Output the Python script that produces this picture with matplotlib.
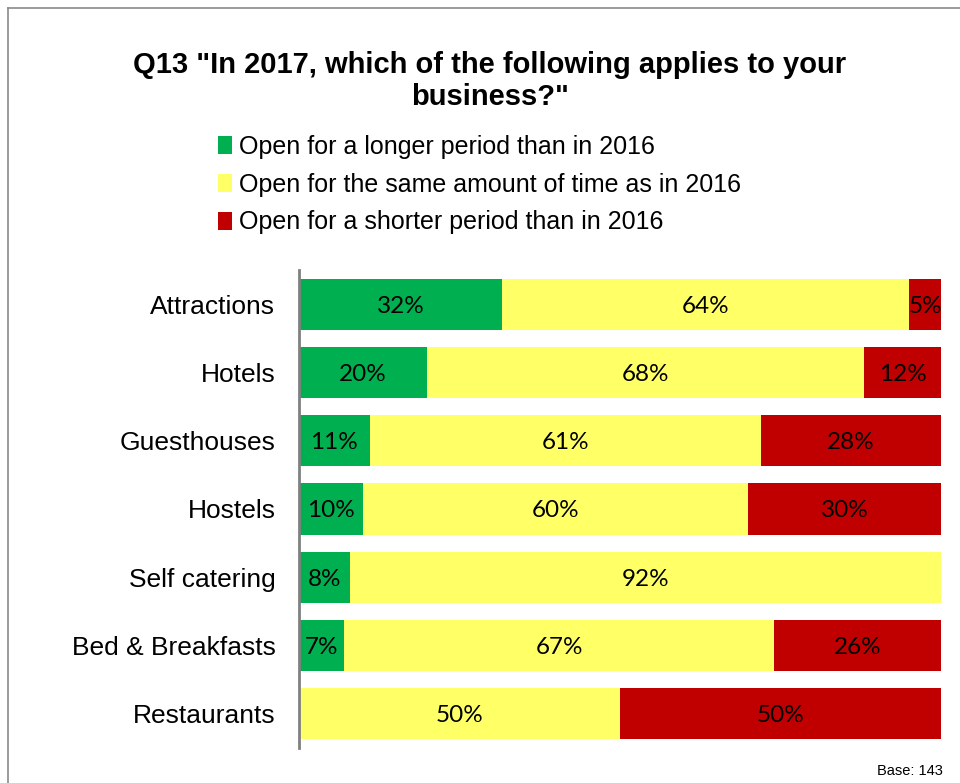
import matplotlib
matplotlib.use("Agg")
import matplotlib.pyplot as plt
import numpy as np
from matplotlib.patches import Patch
from matplotlib.lines import Line2D

plt.rcParams['font.family'] = ['Liberation Sans', 'DejaVu Sans']

categories = ['Attractions', 'Hotels', 'Guesthouses', 'Hostels',
              'Self catering', 'Bed & Breakfasts', 'Restaurants']
longer = [32, 20, 11, 10, 8, 7, 0]
same = [64, 68, 61, 60, 92, 67, 50]
shorter = [5, 12, 28, 30, 0, 26, 50]

series_names = ['Open for a longer period than in 2016',
                'Open for the same amount of time as in 2016',
                'Open for a shorter period than in 2016']
colors = ['#00B050', '#FFFF66', '#C00000']

fig = plt.figure(figsize=(9.6, 7.83), dpi=100)
ax = fig.add_axes([0.3115, 0.0447, 0.66875, 0.6105])

vals = np.array([longer, same, shorter], dtype=float)
totals = vals.sum(axis=0)
shares = vals / totals * 100  # 100% stacked

y = np.arange(len(categories))
left = np.zeros(len(categories))
for i in range(3):
    bars = ax.barh(y, shares[i], left=left, height=0.75, color=colors[i],
                   edgecolor='none')
    labels = ['%d%%' % v if v > 0 else '' for v in vals[i]]
    txts = ax.bar_label(bars, labels=labels, label_type='center', fontsize=17.5,
                        family='Lato', color='black')
    for t in txts:
        t.set_va('center_baseline')
    left += shares[i]

ax.set_xlim(0, 100)
ax.set_ylim(6.5, -0.5)
ax.set_yticks(y)
ax.set_yticklabels(categories, fontsize=19)
ax.tick_params(axis='y', length=0, pad=17)
ax.xaxis.set_visible(False)
for s in ['top', 'right', 'bottom']:
    ax.spines[s].set_visible(False)
ax.spines['left'].set_color('#808080')
ax.spines['left'].set_linewidth(2)

# title
fig.text(490 / 960, 1 - 73 / 783, 'Q13 "In 2017, which of the following applies to your',
         ha='center', va='baseline', fontsize=21, weight='bold')
fig.text(490 / 960, 1 - 105 / 783, 'business?"',
         ha='center', va='baseline', fontsize=21, weight='bold')

handles = [Patch(facecolor=c, edgecolor='none') for c in colors]
fig.legend(handles, series_names, loc='upper left',
           bbox_to_anchor=(218 / 960, 1 - 135 / 783), frameon=False,
           fontsize=18, handlelength=0.55, handleheight=0.75,
           handletextpad=0.3, labelspacing=0.55, borderpad=0, borderaxespad=0)

fig.text(943 / 960, 1 - 775 / 783, 'Base: 143', ha='right', va='baseline',
         fontsize=10.5)

# outer frame
x0 = 8 / 960
top = 1 - 8 / 783
fig.add_artist(Line2D([x0, x0], [0, top], color='#8a8a8a', lw=1.2))
fig.add_artist(Line2D([x0, 1], [top, top], color='#8a8a8a', lw=1.2))

fig.savefig('out.png', dpi=100)
